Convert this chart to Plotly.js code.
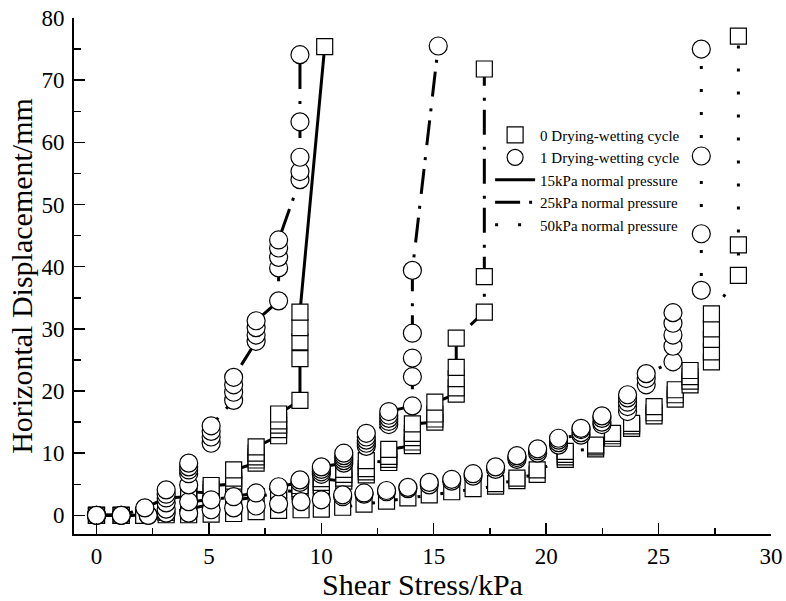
<!DOCTYPE html>
<html>
<head>
<meta charset="utf-8">
<script src="https://cdn.plot.ly/plotly-3.0.1.min.js"></script>
<style>
  html, body { margin: 0; padding: 0; background: #fff; }
  #chart { width: 786px; height: 601px; }
</style>
</head>
<body>
<div id="chart"></div>
<script>
// ---- Data (shear stress kPa, horizontal displacement mm) ----
// 0 drying-wetting cycle, 15 kPa normal pressure (squares, solid)
var s15X = [0, 1.1, 2.1, 3.1, 3.1, 3.1, 3.1, 4.1, 4.1, 4.1, 5.1, 5.1, 5.1, 6.1, 6.1, 6.1, 6.1, 7.1, 7.1, 7.1, 7.1, 7.1, 8.1, 8.1, 8.1, 8.1, 8.1, 9.05, 9.05, 9.05, 9.05, 9.05, 10.15];
var s15Y = [0, 0, 0, 0.5, 1.2, 2.0, 2.8, 3.0, 3.4, 3.8, 3.6, 4.2, 4.8, 5.0, 5.5, 6.0, 7.3, 8.4, 8.9, 9.4, 10.0, 11.0, 12.8, 13.8, 14.5, 15.2, 16.3, 18.5, 25.2, 27.9, 30.2, 32.7, 75.4];

// 1 drying-wetting cycle, 15 kPa (circles)
var c15X = [0, 1.1, 2.15, 3.1, 3.1, 3.1, 4.1, 4.1, 4.1, 4.1, 4.1, 5.1, 5.1, 5.1, 5.1, 6.1, 6.1, 6.1, 6.1, 7.1, 7.1, 7.1, 7.1, 8.1, 8.1, 8.1, 8.1, 8.1, 9.05, 9.05, 9.05, 9.05, 9.05];
var c15Y = [0, 0, 1.2, 2.8, 3.4, 4.1, 4.9, 6.7, 7.3, 7.8, 8.4, 11.6, 12.6, 13.5, 14.4, 18.5, 19.8, 21.0, 22.2, 28.0, 29.0, 30.2, 31.3, 34.5, 39.8, 41.5, 43.0, 44.3, 54.0, 55.3, 57.6, 63.3, 74.1];

// 0 drying-wetting cycle, 25 kPa (squares)
var s25X = [0, 1.1, 2.1, 3.1, 4.1, 5.1, 6.1, 7.1, 8.1, 8.1, 9.05, 9.05, 9.05, 10.0, 10.0, 10.0, 10.0, 11.0, 11.0, 11.0, 11.0, 12.0, 12.0, 12.0, 12.0, 13.0, 13.0, 13.0, 13.0, 14.05, 14.05, 14.05, 14.05, 14.05, 15.05, 15.05, 15.05, 15.05, 16.0, 16.0, 16.0, 16.0, 16.0, 17.25, 17.25, 17.25];
var s25Y = [0, 0, 0, 0.5, 1.0, 1.8, 2.4, 3.0, 3.6, 4.0, 3.8, 4.3, 4.8, 4.4, 4.8, 5.3, 5.9, 5.5, 6.0, 6.6, 7.4, 6.5, 7.0, 7.5, 8.8, 8.5, 9.0, 9.5, 10.6, 11.2, 11.8, 12.5, 13.2, 14.7, 15.0, 15.5, 16.3, 18.2, 19.5, 20.5, 22.0, 23.8, 28.5, 32.7, 38.4, 71.8];

// 1 drying-wetting cycle, 25 kPa (circles)
var c25X = [0, 1.1, 2.3, 3.1, 3.1, 4.1, 5.1, 6.1, 7.1, 8.1, 9.05, 9.05, 10.0, 10.0, 10.0, 10.0, 11.0, 11.0, 11.0, 11.0, 11.0, 12.0, 12.0, 12.0, 12.0, 12.0, 13.0, 13.0, 13.0, 13.0, 13.0, 14.05, 14.05, 14.05, 14.05, 14.05, 15.2];
var c25Y = [0, 0, 0, 1.0, 2.0, 2.2, 2.5, 3.0, 3.6, 4.6, 5.3, 5.7, 6.6, 7.0, 7.4, 7.8, 8.4, 8.8, 9.2, 9.6, 10.0, 11.1, 11.6, 12.1, 12.6, 13.2, 14.6, 15.1, 15.6, 16.1, 16.7, 17.6, 22.3, 25.3, 29.3, 39.4, 75.5];

// 0 drying-wetting cycle, 50 kPa (squares)
var s50X = [0, 1.1, 2.1, 3.1, 4.1, 5.1, 6.1, 7.1, 8.1, 9.1, 10.0, 10.95, 11.9, 12.9, 13.85, 14.8, 15.8, 16.75, 17.75, 17.75, 18.7, 18.7, 19.6, 19.6, 20.85, 20.85, 20.85, 20.85, 22.2, 22.2, 22.2, 22.95, 22.95, 22.95, 23.8, 23.8, 23.8, 24.8, 24.8, 24.8, 25.74, 25.74, 25.74, 26.4, 26.4, 26.4, 26.4, 27.35, 27.35, 27.35, 27.35, 27.35, 28.55, 28.55, 28.55];
var s50Y = [0, 0, 0, 0.1, 0.1, 0.2, 0.3, 0.6, 0.8, 0.9, 1.0, 1.3, 1.8, 2.3, 2.8, 3.3, 3.8, 4.3, 4.7, 5.1, 5.6, 6.0, 6.6, 7.3, 9.0, 9.4, 9.8, 10.3, 10.7, 11.0, 11.3, 12.4, 12.8, 13.2, 14.0, 14.4, 14.8, 16.0, 16.5, 17.5, 18.7, 19.4, 20.2, 21.0, 21.6, 22.3, 23.3, 24.7, 26.3, 28.3, 30.0, 32.4, 38.6, 43.5, 77.1];

// 1 drying-wetting cycle, 50 kPa (circles)
var c50X = [0, 1.1, 2.3, 3.1, 4.1, 5.1, 6.1, 7.1, 8.1, 9.1, 10.0, 10.95, 10.95, 11.9, 11.9, 12.9, 12.9, 13.85, 13.85, 14.8, 14.8, 15.8, 15.8, 16.75, 16.75, 17.75, 17.75, 18.7, 18.7, 18.7, 19.62, 19.62, 19.62, 20.55, 20.55, 20.55, 20.55, 21.55, 21.55, 21.55, 21.55, 22.48, 22.48, 22.48, 22.48, 23.62, 23.62, 23.62, 23.62, 23.62, 24.45, 24.45, 24.45, 25.64, 25.64, 25.64, 25.64, 25.64, 26.9, 26.9, 26.9, 26.9];
var c50Y = [0, 0, 0, 0.35, 0.35, 0.9, 1.2, 1.5, 1.85, 2.2, 2.5, 3.0, 3.3, 3.4, 3.6, 3.8, 4.0, 4.3, 4.5, 4.9, 5.3, 5.5, 5.8, 6.3, 6.7, 7.4, 7.8, 9.0, 9.3, 9.6, 10.0, 10.4, 10.7, 11.3, 11.7, 12.1, 12.4, 12.9, 13.3, 13.8, 14.0, 14.6, 15.0, 15.6, 16.0, 16.7, 17.5, 18.2, 18.9, 19.4, 21.0, 22.0, 22.8, 24.7, 27.2, 29.0, 30.9, 32.6, 36.2, 45.3, 57.8, 75.0];

var legendNames = ["0 Drying-wetting cycle", "1 Drying-wetting cycle",
                   "15kPa normal pressure", "25kPa normal pressure", "50kPa normal pressure"];
var xTicks = [0, 5, 10, 15, 20, 25, 30];
var yTicks = [0, 10, 20, 30, 40, 50, 60, 70, 80];

// ---- Styles ----
var FONT = "Liberation Serif, Times New Roman, serif";
var DASH_SOLID = "solid";
var DASH_DD = "25px,9px,3px,12px";
var DASH_DOT = "3px,20px";
var sqMarker = {symbol: "square", size: 16, color: "#ffffff", line: {color: "#000000", width: 1.2}};
var ciMarker = {symbol: "circle", size: 18, color: "#ffffff", line: {color: "#000000", width: 1.2}};

function series(x, y, marker, dash) {
  return {x: x, y: y, type: "scatter", mode: "lines+markers", showlegend: false,
          marker: marker, line: {color: "#000000", width: 3, dash: dash}, hoverinfo: "x+y"};
}

var traces = [
  series(s50X, s50Y, sqMarker, DASH_DOT),
  series(s25X, s25Y, sqMarker, DASH_DD),
  series(s15X, s15Y, sqMarker, DASH_SOLID),
  series(c50X, c50Y, ciMarker, DASH_DOT),
  series(c25X, c25Y, ciMarker, DASH_DD),
  series(c15X, c15Y, ciMarker, DASH_DD),
  // legend entries
  {x: [null], y: [null], type: "scatter", mode: "markers", name: legendNames[0], marker: sqMarker},
  {x: [null], y: [null], type: "scatter", mode: "markers", name: legendNames[1], marker: ciMarker},
  {x: [null], y: [null], type: "scatter", mode: "lines", name: legendNames[2], line: {color: "#000", width: 3, dash: DASH_SOLID}},
  {x: [null], y: [null], type: "scatter", mode: "lines", name: legendNames[3], line: {color: "#000", width: 3, dash: DASH_DD}},
  {x: [null], y: [null], type: "scatter", mode: "lines", name: legendNames[4], line: {color: "#000", width: 3, dash: DASH_DOT}}
];

var layout = {
  width: 786, height: 601,
  margin: {l: 74, r: 15, t: 18, b: 67},
  paper_bgcolor: "#ffffff", plot_bgcolor: "#ffffff",
  font: {family: FONT, color: "#000000"},
  showlegend: true,
  legend: {x: 0.597, y: 0.805, xanchor: "left", yanchor: "top", bgcolor: "rgba(0,0,0,0)",
           font: {family: FONT, size: 15, color: "#000"}, itemwidth: 40, tracegroupgap: 0},
  xaxis: {
    range: [-1, 30], tickvals: xTicks, ticktext: xTicks.map(String),
    ticks: "inside", ticklen: 11, tickwidth: 1.5, tickcolor: "#000",
    minor: {dtick: 2.5, tick0: 0, ticks: "inside", ticklen: 6, tickwidth: 1.5, tickcolor: "#000"},
    showline: true, linecolor: "#000", linewidth: 2, showgrid: false, zeroline: false,
    tickfont: {family: FONT, size: 23, color: "#000"},
    title: {text: "Shear Stress/kPa", font: {family: FONT, size: 30, color: "#000"}, standoff: 0},
    automargin: false
  },
  yaxis: {
    range: [-3, 80], tickvals: yTicks, ticktext: yTicks.map(String),
    ticks: "inside", ticklen: 11, tickwidth: 1.5, tickcolor: "#000",
    minor: {dtick: 5, tick0: 0, ticks: "inside", ticklen: 7, tickwidth: 1.5, tickcolor: "#000"},
    showline: true, linecolor: "#000", linewidth: 2, showgrid: false, zeroline: false,
    tickfont: {family: FONT, size: 23, color: "#000"}, ticklabelstandoff: 3,
    title: {text: "Horizontal Displacement/mm", font: {family: FONT, size: 30, color: "#000"}, standoff: 0},
    automargin: false
  }
};

Plotly.newPlot("chart", traces, layout, {displayModeBar: false, staticPlot: true});
</script>
</body>
</html>
